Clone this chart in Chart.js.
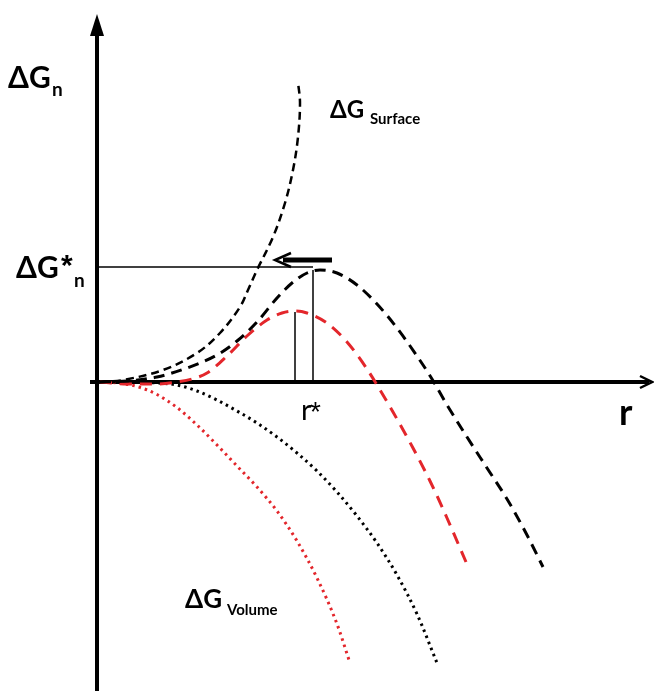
<!DOCTYPE html>
<html><head><meta charset="utf-8">
<script src="https://cdn.jsdelivr.net/npm/chart.js@4.4.1/dist/chart.umd.min.js"></script>
<style>html,body{margin:0;padding:0;background:#fff}#wrap{width:654px;height:691px}</style>
</head><body><div id="wrap"><canvas id="c" width="654" height="691"></canvas></div>
<script>
// r (radius) and ΔG values, arbitrary schematic units
const surfR = [0.3,2.6,6.6,10,12.3,14.3,15.1,16,17.6,18.8,19.6,20.1,20.3,20.1];
const surfG = [0,0.2,1.2,2.9,4.9,7.5,9.2,11.2,14.5,17.9,21.2,24.5,27.9,30];
const totR = [0.3,3,6,9,12,14,16,18,19.5,21,22.3,24,26,28,30,32,33.5,35,37,39,41,43,44.6];
const totG = [0,0.1,0.5,1.4,2.7,4.1,6.0,8.4,9.9,10.9,11.2,10.9,9.7,7.8,5.4,2.6,0.3,-2.3,-5.5,-8.6,-11.7,-15.3,-18.5];
const redTotR = [0.3,3,6,8,9.5,11,13,15,17,18.5,19.8,21,23,25,27,28,29.6,31.6,33.3,35,36.9];
const redTotG = [0,-0.2,-0.2,0,0.3,0.9,2.6,4.6,6.2,6.9,7.1,6.9,5.9,4.0,1.3,-0.3,-3.0,-6.6,-9.9,-13.6,-18.0];
const volR = [0.3,3,6,8,10,12,14,16,18,20,22,24,26,28,30,32,34];
const volG = [0,0,-0.1,-0.3,-0.9,-1.8,-2.9,-4.1,-5.5,-7.1,-8.9,-11.0,-13.4,-16.1,-19.3,-23.2,-28.1];
const redVolR = [0.3,2,4,6,8,10,12,14,16,18,20,22,24,25.3];
const redVolG = [0,-0.1,-0.45,-1.25,-2.55,-4.3,-6.3,-8.4,-10.5,-12.9,-15.9,-19.6,-24.2,-28.1];
const rStar = 21.6, gStar = 11.5, rStarRed = 19.8, gStarRed = 7.0, gPeak = 11.2;

const pts = (xs, ys) => xs.map((x, i) => ({x, y: ys[i]}));
const base = {showLine: true, pointRadius: 0, fill: false, cubicInterpolationMode: 'monotone', borderCapStyle: 'butt'};

const datasets = [
  Object.assign({}, base, {cubicInterpolationMode: 'default', tension: 0.35, data: pts(surfR, surfG), borderColor: '#000', borderWidth: 2.5, borderDash: [8, 5]}),
  Object.assign({}, base, {data: pts(totR, totG), borderColor: '#000', borderWidth: 3, borderDash: [11, 7]}),
  Object.assign({}, base, {data: pts(redTotR, redTotG), borderColor: '#e3262b', borderWidth: 3, borderDash: [12, 8]}),
  Object.assign({}, base, {data: pts(volR, volG), borderColor: '#000', borderWidth: 3, borderDash: [2.5, 4]}),
  Object.assign({}, base, {data: pts(redVolR, redVolG), borderColor: '#e3262b', borderWidth: 3, borderDash: [2.5, 4]}),
  Object.assign({}, base, {cubicInterpolationMode: 'default', tension: 0, data: [{x: 0, y: gStar}, {x: rStar, y: gStar}], borderColor: '#000', borderWidth: 1.5}),
  Object.assign({}, base, {cubicInterpolationMode: 'default', tension: 0, data: [{x: rStar, y: 0}, {x: rStar, y: gPeak}], borderColor: '#000', borderWidth: 1.5}),
  Object.assign({}, base, {cubicInterpolationMode: 'default', tension: 0, data: [{x: rStarRed, y: 0}, {x: rStarRed, y: gStarRed}], borderColor: '#000', borderWidth: 1.5})
];

const decor = {
  id: 'decor',
  beforeDatasetsDraw(chart) {
    const ctx = chart.ctx, X = v => chart.scales.x.getPixelForValue(v), Y = v => chart.scales.y.getPixelForValue(v);
    ctx.save();
    ctx.strokeStyle = '#000'; ctx.fillStyle = '#000'; ctx.lineWidth = 4; ctx.lineCap = 'butt';
    // y axis
    ctx.beginPath(); ctx.moveTo(X(0), Y(-31)); ctx.lineTo(X(0), Y(35.5)); ctx.stroke();
    ctx.beginPath(); ctx.moveTo(X(0), Y(36.8)); ctx.lineTo(X(0) - 7, Y(34.6)); ctx.lineTo(X(0) + 7, Y(34.6)); ctx.closePath(); ctx.fill();
    // x axis
    ctx.beginPath(); ctx.moveTo(X(-0.7), Y(0)); ctx.lineTo(X(55.2), Y(0)); ctx.stroke();
    ctx.lineWidth = 2.5;
    ctx.beginPath(); ctx.moveTo(X(54.3), Y(0) - 6); ctx.lineTo(X(55.5), Y(0)); ctx.lineTo(X(54.3), Y(0) + 6); ctx.stroke();
    ctx.restore();
  },
  afterDatasetsDraw(chart) {
    const ctx = chart.ctx, X = v => chart.scales.x.getPixelForValue(v), Y = v => chart.scales.y.getPixelForValue(v);
    ctx.save();
    ctx.fillStyle = '#000'; ctx.strokeStyle = '#000';
    // arrow pointing left
    ctx.lineWidth = 5;
    ctx.beginPath(); ctx.moveTo(X(23.5), Y(12.2)); ctx.lineTo(X(18.6), Y(12.2)); ctx.stroke();
    ctx.lineWidth = 2.5;
    ctx.beginPath(); ctx.moveTo(X(19.4), Y(12.2) - 7); ctx.lineTo(X(17.8), Y(12.2)); ctx.lineTo(X(19.4), Y(12.2) + 7); ctx.stroke();
    // texts
    const F = 'Lato, "Open Sans", sans-serif';
    const A = '"Liberation Sans", Arial, sans-serif';
    ctx.textBaseline = 'alphabetic'; ctx.textAlign = 'left';
    ctx.font = 'bold 30px ' + F; ctx.fillText('ΔG', 8, 88);
    ctx.font = 'bold 19px ' + F; ctx.fillText('n', 52, 96);
    ctx.font = 'bold 30px ' + F; ctx.fillText('ΔG', 16, 278);
    ctx.font = 'bold 30px ' + A; ctx.fillText('*', 61, 275);
    ctx.font = 'bold 19px ' + F; ctx.fillText('n', 74, 287);
    ctx.font = 'bold 24px ' + F; ctx.fillText('ΔG', 330, 118);
    ctx.font = 'bold 15px ' + F; ctx.fillText('Surface', 370, 124);
    ctx.font = 'bold 26px ' + F; ctx.fillText('ΔG', 185, 608);
    ctx.font = 'bold 15px ' + F; ctx.fillText('Volume', 227, 615);
    ctx.font = '29px ' + F; ctx.fillText('r', 301, 420);
    ctx.font = '28px ' + A; ctx.fillText('*', 310, 421);
    ctx.font = 'bold 36px ' + F; ctx.fillText('r', 619, 425);
    ctx.restore();
  }
};

new Chart(document.getElementById('c'), {
  type: 'scatter',
  data: {datasets},
  options: {
    responsive: false, animation: false,
    layout: {padding: 0},
    plugins: {legend: {display: false}, tooltip: {enabled: false}},
    scales: {
      x: {type: 'linear', min: -9.7, max: 55.7, display: false},
      y: {type: 'linear', min: -30.9, max: 38.2, display: false}
    }
  },
  plugins: [decor]
});
</script></body></html>
